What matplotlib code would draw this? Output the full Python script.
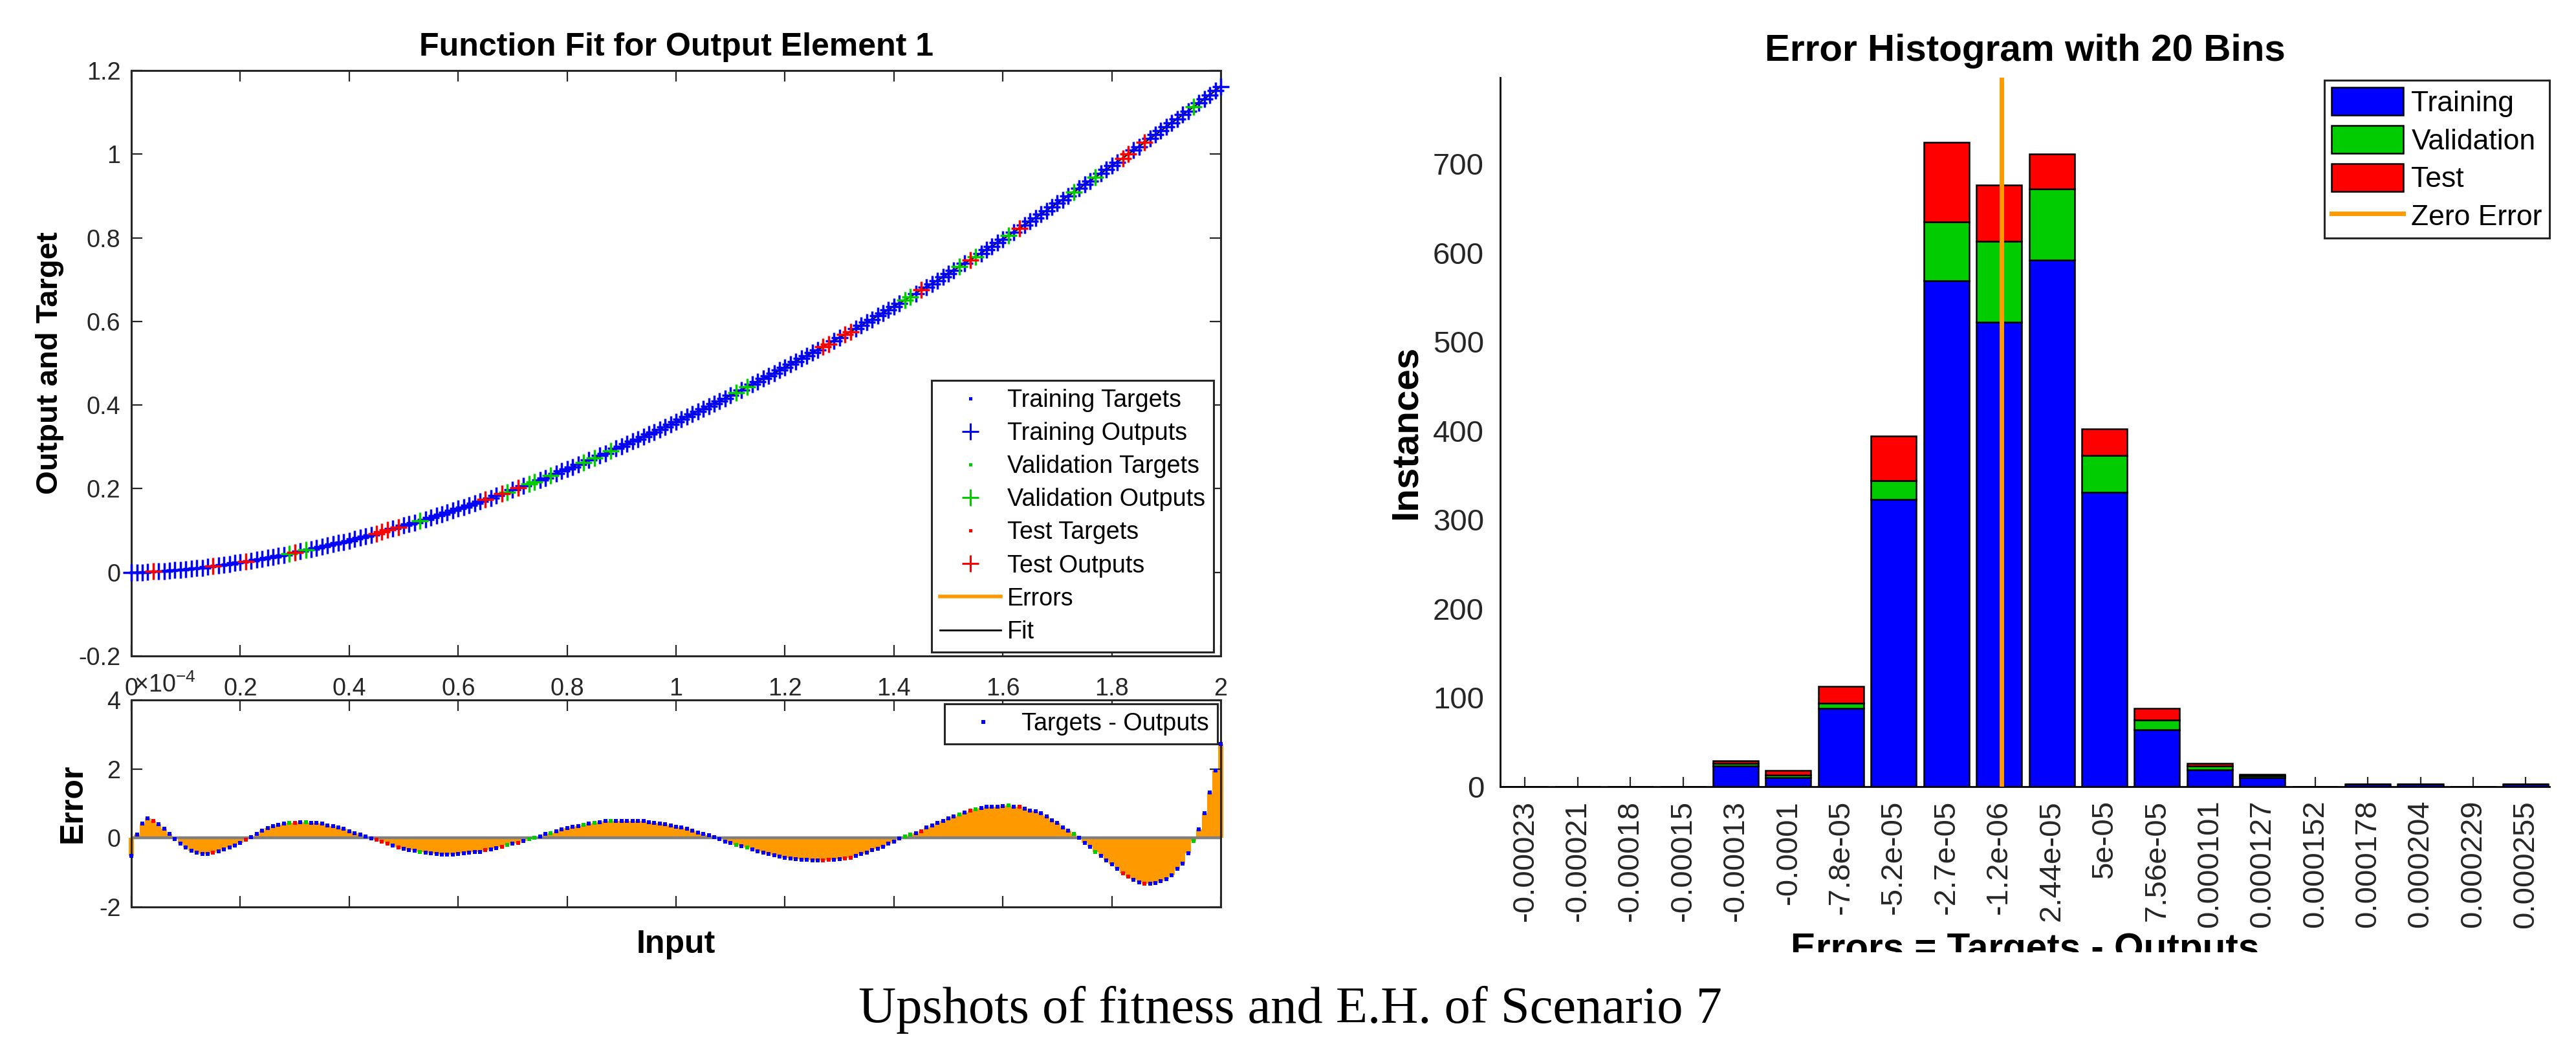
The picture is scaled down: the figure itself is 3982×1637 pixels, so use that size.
import numpy as np
import matplotlib
matplotlib.use("Agg")
import matplotlib.pyplot as plt
from matplotlib.lines import Line2D
from matplotlib.patches import Patch
from matplotlib.transforms import Bbox, TransformedBbox

plt.rcParams['font.family'] = ['Liberation Sans', 'DejaVu Sans']
plt.rcParams['mathtext.fontset'] = 'custom'
plt.rcParams['mathtext.rm'] = 'Liberation Sans'
plt.rcParams['mathtext.it'] = 'Liberation Sans:italic'

# ---- function fit: 201 samples, input 0 .. 2e-4 ----
inputs = np.linspace(0, 2e-4, 201)

targets = [
    0.000, 0.000, 0.000, 0.001, 0.002, 0.002, 0.003, 0.004, 0.005, 0.006,
    0.007, 0.009, 0.010, 0.011, 0.013, 0.015, 0.016, 0.018, 0.020, 0.022,
    0.024, 0.026, 0.028, 0.030, 0.032, 0.035, 0.037, 0.039, 0.042, 0.044,
    0.047, 0.050, 0.053, 0.055, 0.058, 0.061, 0.064, 0.067, 0.070, 0.073,
    0.076, 0.080, 0.083, 0.086, 0.090, 0.093, 0.097, 0.101, 0.104, 0.108,
    0.112, 0.115, 0.119, 0.123, 0.127, 0.131, 0.135, 0.139, 0.143, 0.148,
    0.152, 0.156, 0.160, 0.165, 0.169, 0.174, 0.178, 0.183, 0.188, 0.192,
    0.197, 0.202, 0.207, 0.211, 0.216, 0.221, 0.226, 0.231, 0.237, 0.242,
    0.247, 0.252, 0.258, 0.263, 0.268, 0.273, 0.279, 0.284, 0.290, 0.296,
    0.301, 0.307, 0.313, 0.318, 0.324, 0.330, 0.336, 0.342, 0.348, 0.354,
    0.360, 0.366, 0.372, 0.378, 0.385, 0.391, 0.397, 0.404, 0.410, 0.416,
    0.423, 0.429, 0.436, 0.443, 0.449, 0.456, 0.463, 0.469, 0.476, 0.483,
    0.490, 0.497, 0.504, 0.511, 0.518, 0.525, 0.532, 0.539, 0.546, 0.554,
    0.561, 0.568, 0.575, 0.583, 0.590, 0.598, 0.605, 0.613, 0.620, 0.628,
    0.636, 0.643, 0.651, 0.659, 0.667, 0.675, 0.682, 0.690, 0.698, 0.706,
    0.714, 0.722, 0.731, 0.739, 0.747, 0.755, 0.763, 0.772, 0.780, 0.788,
    0.797, 0.805, 0.814, 0.822, 0.831, 0.839, 0.848, 0.856, 0.865, 0.874,
    0.883, 0.891, 0.900, 0.909, 0.918, 0.927, 0.936, 0.945, 0.954, 0.963,
    0.972, 0.981, 0.990, 1.000, 1.009, 1.018, 1.028, 1.037, 1.046, 1.056,
    1.065, 1.075, 1.084, 1.094, 1.103, 1.113, 1.122, 1.132, 1.142, 1.152,
    1.162,
]

errors = [
    -0.52, 0.09, 0.42, 0.56, 0.49, 0.40, 0.27, 0.12, -0.04, -0.17,
    -0.28, -0.37, -0.43, -0.46, -0.46, -0.42, -0.38, -0.33, -0.28, -0.22,
    -0.14, -0.06, 0.03, 0.11, 0.22, 0.28, 0.34, 0.38, 0.42, 0.44,
    0.44, 0.45, 0.45, 0.44, 0.43, 0.41, 0.37, 0.34, 0.30, 0.26,
    0.20, 0.14, 0.09, 0.05, -0.01, -0.06, -0.10, -0.17, -0.22, -0.28,
    -0.31, -0.35, -0.37, -0.40, -0.43, -0.44, -0.46, -0.48, -0.48, -0.48,
    -0.46, -0.45, -0.43, -0.41, -0.40, -0.36, -0.33, -0.29, -0.26, -0.20,
    -0.16, -0.14, -0.08, -0.03, 0.00, 0.05, 0.11, 0.14, 0.20, 0.25,
    0.28, 0.32, 0.34, 0.38, 0.42, 0.44, 0.46, 0.49, 0.49, 0.49,
    0.50, 0.50, 0.50, 0.50, 0.49, 0.46, 0.44, 0.41, 0.39, 0.36,
    0.32, 0.31, 0.27, 0.22, 0.15, 0.12, 0.08, 0.02, -0.03, -0.10,
    -0.15, -0.20, -0.23, -0.28, -0.34, -0.39, -0.43, -0.46, -0.51, -0.54,
    -0.57, -0.59, -0.62, -0.63, -0.64, -0.65, -0.65, -0.65, -0.64, -0.64,
    -0.62, -0.59, -0.57, -0.52, -0.46, -0.42, -0.36, -0.31, -0.25, -0.17,
    -0.10, -0.02, 0.05, 0.09, 0.14, 0.20, 0.30, 0.37, 0.43, 0.49,
    0.56, 0.62, 0.68, 0.74, 0.79, 0.83, 0.86, 0.90, 0.91, 0.91,
    0.93, 0.94, 0.91, 0.91, 0.85, 0.80, 0.77, 0.71, 0.62, 0.52,
    0.43, 0.31, 0.22, 0.12, 0.00, -0.15, -0.26, -0.40, -0.52, -0.65,
    -0.77, -0.90, -1.02, -1.12, -1.22, -1.28, -1.33, -1.33, -1.31, -1.26,
    -1.20, -1.08, -0.90, -0.74, -0.44, -0.09, 0.25, 0.71, 1.31, 1.96,
    2.72,
]

val_idx = [29, 32, 53, 69, 73, 74, 77, 83, 85, 88, 111, 113, 142, 143,
           152, 155, 161, 173, 177, 195]
test_idx = [4, 15, 21, 30, 45, 46, 47, 49, 65, 68, 71, 127, 128, 131, 132,
            145, 154, 163, 182, 183, 186]

# ---- error histogram, 20 bins ----
bin_centers = [-0.0002316, -0.000206, -0.0001804, -0.0001548, -0.0001292,
               -0.0001036, -7.8e-05, -5.24e-05, -2.68e-05, -1.2e-06,
               2.44e-05, 5.0e-05, 7.56e-05, 0.0001012, 0.0001268,
               0.0001524, 0.000178, 0.0002036, 0.0002292, 0.0002548]
bin_labels = ['-0.00023', '-0.00021', '-0.00018', '-0.00015', '-0.00013',
              '-0.0001', '-7.8e-05', '-5.2e-05', '-2.7e-05', '-1.2e-06',
              '2.44e-05', '5e-05', '7.56e-05', '0.000101', '0.000127',
              '0.000152', '0.000178', '0.000204', '0.000229', '0.000255']
train_counts = [0, 0, 0, 0, 23, 10, 88, 323, 569, 522, 592, 331, 64, 19, 10, 0, 3, 3, 0, 3]
val_counts = [0, 0, 0, 0, 3, 3, 6, 21, 66, 91, 80, 41, 11, 4, 2, 0, 0, 0, 0, 0]
test_counts = [0, 0, 0, 0, 3, 5, 19, 50, 89, 63, 39, 30, 13, 3, 2, 0, 0, 0, 0, 0]

BLUE, GREEN, RED, ORANGE = '#0000FF', '#00CC00', '#FF0000', '#FF9900'
AXC = '#262626'

x = np.asarray(inputs)
t = np.asarray(targets)
e = np.asarray(errors)
o = t - e * 1e-4          # outputs (difference too small to see)
group = np.zeros(len(t), int)
group[val_idx] = 1
group[test_idx] = 2
cols = [BLUE, GREEN, RED]

fig = plt.figure(figsize=(19.91, 8.185), dpi=200)
ax_fit = fig.add_axes([0.0510, 0.3806, 0.4229, 0.5528])
ax_err = fig.add_axes([0.0510, 0.1436, 0.4229, 0.1955])
ax_hist = fig.add_axes([0.5824, 0.2572, 0.4073, 0.6695])

# ---------- fit plot ----------
ax_fit.plot(x, o, color='k', lw=0.8, zorder=2)
for k, c in enumerate(cols):
    m = group == k
    ax_fit.plot(x[m], o[m], ls='none', marker='+', ms=9.5, mew=1.25, color=c,
                clip_on=False, zorder=3)
    ax_fit.plot(x[m], t[m], ls='none', marker='s', ms=1.6, mew=0, color=c,
                clip_on=False, zorder=3)

ax_fit.set_xlim(0, 2e-4)
ax_fit.set_ylim(-0.2, 1.2)
xt = np.arange(0, 2.01, 0.2)
ax_fit.set_xticks(xt * 1e-4)
ax_fit.set_xticklabels(['0', '0.2', '0.4', '0.6', '0.8', '1', '1.2', '1.4',
                        '1.6', '1.8', '2'])
yt = [-0.2, 0, 0.2, 0.4, 0.6, 0.8, 1, 1.2]
ax_fit.set_yticks(yt)
ax_fit.set_yticklabels(['-0.2', '0', '0.2', '0.4', '0.6', '0.8', '1', '1.2'])
ax_fit.text(0.0026, -0.062, '×10$^{-4}$', transform=ax_fit.transAxes,
            fontsize=13.6, color=AXC, ha='left', va='baseline')
ax_fit.set_title('Function Fit for Output Element 1', fontsize=18,
                 fontweight='bold', pad=8.3)
ax_fit.set_ylabel('Output and Target', fontsize=17, fontweight='bold')
ax_fit.yaxis.set_label_coords(-0.062, 0.5)

fit_handles = [
    Line2D([], [], ls='none', marker='s', ms=1.8, mew=0, color=BLUE),
    Line2D([], [], ls='none', marker='+', ms=9.5, mew=1.1, color=BLUE),
    Line2D([], [], ls='none', marker='s', ms=1.8, mew=0, color=GREEN),
    Line2D([], [], ls='none', marker='+', ms=9.5, mew=1.1, color=GREEN),
    Line2D([], [], ls='none', marker='s', ms=1.8, mew=0, color=RED),
    Line2D([], [], ls='none', marker='+', ms=9.5, mew=1.1, color=RED),
    Line2D([], [], color=ORANGE, lw=2.0),
    Line2D([], [], color='k', lw=1.0),
]
fit_labels = ['Training Targets', 'Training Outputs', 'Validation Targets',
              'Validation Outputs', 'Test Targets', 'Test Outputs', 'Errors', 'Fit']
leg = ax_fit.legend(fit_handles, fit_labels, loc='lower right',
                    bbox_to_anchor=(0.9935, 0.0066), borderaxespad=0,
                    fontsize=13.6, fancybox=False, framealpha=1,
                    edgecolor=AXC, borderpad=0.35, labelspacing=0.4,
                    handlelength=2.5, handletextpad=0.25)
leg.get_frame().set_linewidth(1.1)

# ---------- error plot ----------
ax_err.bar(x, e, width=1e-6, color=ORANGE, lw=0, clip_on=False, zorder=1)
ax_err.axhline(0, color='#808080', lw=1.6, zorder=2)
for k, c in enumerate(cols):
    m = group == k
    ax_err.plot(x[m], e[m], ls='none', marker='s', ms=2.3, mew=0, color=c,
                clip_on=False, zorder=3)
ax_err.set_xlim(0, 2e-4)
ax_err.set_ylim(-2, 4)
ax_err.set_xticks(xt * 1e-4)
ax_err.set_xticklabels([])
ax_err.set_yticks([-2, 0, 2, 4])
ax_err.set_yticklabels(['-2', '0', '2', '4'])
ax_err.set_ylabel('Error', fontsize=18, fontweight='bold')
ax_err.yaxis.set_label_coords(-0.040, 0.5)
ax_err.set_xlabel('Input', fontsize=18, fontweight='bold')
ax_err.xaxis.set_label_coords(0.5, -0.11)
leg2 = ax_err.legend([Line2D([], [], ls='none', marker='s', ms=2.0, mew=0, color=BLUE)],
                     ['Targets - Outputs'], loc='upper right',
                     bbox_to_anchor=(0.997, 0.981), borderaxespad=0,
                     fontsize=13.6, fancybox=False, framealpha=1,
                     edgecolor=AXC, borderpad=0.35, handlelength=2.5,
                     handletextpad=0.3)
leg2.get_frame().set_linewidth(1.1)

for ax in (ax_fit, ax_err):
    ax.tick_params(direction='in', top=True, right=True, length=6, width=0.8,
                   colors=AXC, labelsize=13.6)
    ax.tick_params(axis='y', pad=6)
    ax.tick_params(axis='x', pad=12)
    for s in ax.spines.values():
        s.set_linewidth(1.1)
        s.set_color(AXC)

# ---------- histogram ----------
pos = np.asarray(bin_centers)
w = np.diff(pos).mean()
tr = np.asarray(train_counts)
va = np.asarray(val_counts)
te = np.asarray(test_counts)
bw = 0.86 * w
ax_hist.bar(pos, tr, width=bw, color=BLUE, edgecolor='k', lw=0.9, zorder=2)
ax_hist.bar(pos, va, width=bw, bottom=tr, color=GREEN, edgecolor='k', lw=0.9, zorder=2)
ax_hist.bar(pos, te, width=bw, bottom=tr + va, color=RED, edgecolor='k', lw=0.9, zorder=2)
ax_hist.axvline(0, color=ORANGE, lw=2.5, zorder=3)
ax_hist.set_xlim(pos[0] - 0.47 * w, pos[-1] + 0.45 * w)
ax_hist.set_ylim(0, 797)
ax_hist.set_xticks(pos)
ax_hist.set_xticklabels(bin_labels, rotation=90)
ax_hist.set_yticks(range(0, 701, 100))
ax_hist.tick_params(axis='x', direction='in', length=5.4, width=0.8,
                    colors=AXC, labelsize=17, pad=7.5)
ax_hist.tick_params(axis='y', length=0, colors=AXC, labelsize=17, pad=9)
ax_hist.spines['top'].set_visible(False)
ax_hist.spines['right'].set_visible(False)
for s in ('left', 'bottom'):
    ax_hist.spines[s].set_linewidth(1.0)
    ax_hist.spines[s].set_color('k')
ax_hist.set_title('Error Histogram with 20 Bins', fontsize=21,
                  fontweight='bold', pad=9.4)
ax_hist.set_ylabel('Instances', fontsize=21, fontweight='bold')
ax_hist.yaxis.set_label_coords(-0.073, 0.5)
ax_hist.set_xlabel('Errors = Targets - Outputs', fontsize=21, fontweight='bold')
ax_hist.xaxis.set_label_coords(0.5, -0.205)
# the source image is cropped through the bottom of this label
xl = ax_hist.xaxis.label
xl.set_clip_box(TransformedBbox(Bbox([[0, 1 - 1472 / 1637], [1, 1]]), fig.transFigure))
xl.set_clip_on(True)

hist_handles = [Patch(facecolor=BLUE, edgecolor='k', lw=0.9),
                Patch(facecolor=GREEN, edgecolor='k', lw=0.9),
                Patch(facecolor=RED, edgecolor='k', lw=0.9),
                Line2D([], [], color=ORANGE, lw=2.5)]
leg3 = ax_hist.legend(hist_handles, ['Training', 'Validation', 'Test', 'Zero Error'],
                      loc='upper right', bbox_to_anchor=(1.0, 0.996),
                      borderaxespad=0, fontsize=16, fancybox=False,
                      framealpha=1, edgecolor=AXC, borderpad=0.25,
                      labelspacing=0.3, handlelength=2.5, handleheight=1.1,
                      handletextpad=0.27)
leg3.get_frame().set_linewidth(1.1)

fig.text(0.5008, 0.0342, 'Upshots of fitness and E.H. of Scenario 7',
         family='Liberation Serif', fontsize=29, ha='center', va='baseline')

fig.savefig('out.png', dpi=200)
